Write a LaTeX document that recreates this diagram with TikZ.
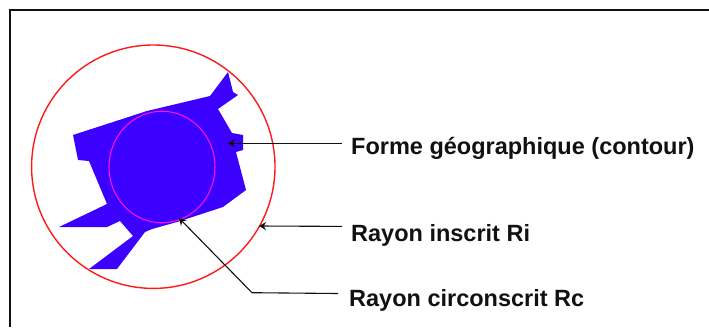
\documentclass[tikz,border=0pt]{standalone}
\usepackage{fontspec}
\setmainfont{Liberation Sans}
\usetikzlibrary{arrows.meta, positioning}
\definecolor{formeblue}{HTML}{3C00FF}
\definecolor{cercle}{HTML}{FF1A1A}
\definecolor{inscrit}{HTML}{FF10F0}
\definecolor{trait}{HTML}{111111}
\tikzset{
  legende/.style={font=\fontsize{23.5}{26}\selectfont\bfseries, text=trait, inner xsep=9pt, inner ysep=0pt,
        text height=17pt, text depth=5pt},
  fleche/.style={draw=trait, line width=1.1pt, -{Stealth[length=7pt,width=8pt]}}
}
\begin{document}
\begin{tikzpicture}[x=1pt, y=-1pt]
  \useasboundingbox (0,0) rectangle (709,327);
  \draw[trait, line width=2pt] (10,327) -- (10,10) -- (709,10);

  % contour
  \fill[formeblue] (228,72) -- (233,92) -- (238,95) -- (218,109) -- (232,133) -- (243,135)
        -- (243,150) -- (236,152) -- (246,190) -- (223,207) -- (177,222) -- (152,229)
        -- (145,232) -- (117,269) -- (89,269) -- (133,236) -- (120,221) -- (107,227)
        -- (59,227) -- (107,204) -- (89,161) -- (78,160) -- (73,135) -- (147,111)
        -- (210,96) -- cycle;
  \draw[cercle, line width=1.4pt] (153.3,166.7) circle [radius=121.7pt];
  \draw[inscrit, line width=1.1pt] (162,167) ellipse [x radius=53pt, y radius=55.8pt];

  \node[legende, anchor=west] (forme) at (342,148.3) {Forme géographique (contour)};
  \node[legende, below=64.4pt of forme.south west, anchor=north west] (ri) {Rayon inscrit Ri};
  \node[legende, below=42.6pt of ri.south west, anchor=north west, xshift=-2pt] (rc) {Rayon circonscrit Rc};

  \coordinate (tipforme) at (228,143.3);
  \coordinate (tipri) at (259,226);
  \coordinate (tiprc) at (179,218);
  \coordinate (coude) at (252,292.7);

  \draw[fleche] ([yshift=5pt]forme.west) -- (tipforme);
  \draw[fleche] ([yshift=8.7pt]ri.west) -- (tipri);
  \draw[fleche] ([shift={(-2pt,6.6pt)}]rc.west) -- (coude) -- (tiprc);
\end{tikzpicture}
\end{document}
